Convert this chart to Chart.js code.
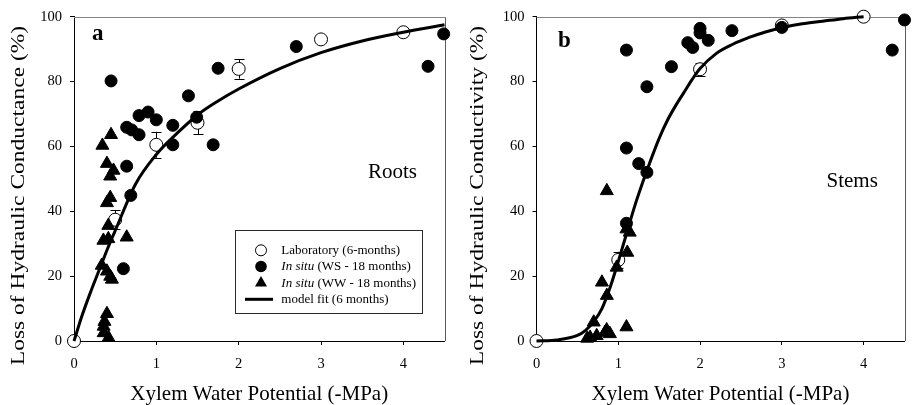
<!DOCTYPE html>
<html><head><meta charset="utf-8">
<script src="https://cdn.jsdelivr.net/npm/chart.js@4.4.1/dist/chart.umd.min.js"></script>
<style>
html,body{margin:0;padding:0;background:#fff;width:913px;height:405px;overflow:hidden}
.w{position:absolute;top:0;height:405px}
#wA{left:0;width:456px}
#wB{left:456px;width:457px}
canvas{display:block}
</style></head><body>
<div class="w" id="wA"><canvas id="cA" width="456" height="405" style="width:456px;height:405px"></canvas></div>
<div class="w" id="wB"><canvas id="cB" width="457" height="405" style="width:457px;height:405px"></canvas></div>
<script>
// ---------- tick labels ----------
const xTicks = [0, 1, 2, 3, 4];
const yTicks = [0, 20, 40, 60, 80, 100];

// ---------- Panel a : Roots ----------
const rootLabX   = [0, 0.5, 1.0, 1.5, 2.0, 3.0, 4.0];
const rootLabY   = [0, 37.4, 60.5, 67.3, 83.9, 93.0, 95.2];
const rootLabErr = [0, 3, 4, 3.5, 3, 0, 0];

const rootWSX = [0.45, 1.75, 1.39, 1.49, 0.79, 0.90, 1.00, 0.64, 0.70, 0.79, 1.20, 1.20, 1.69, 0.64, 0.69, 0.60, 2.70, 4.30, 4.49];
const rootWSY = [80.2, 84.1, 75.6, 69.0, 69.5, 70.6, 68.2, 65.9, 65.1, 63.6, 66.5, 60.5, 60.5, 53.9, 44.9, 22.3, 90.8, 84.7, 94.7];

const rootWWX = [0.45, 0.345, 0.40, 0.48, 0.44, 0.44, 0.40, 0.417, 0.357, 0.417, 0.64, 0.337, 0.40, 0.44, 0.46, 0.40, 0.37, 0.36, 0.36, 0.42];
const rootWWY = [63.6, 60.3, 54.7, 52.6, 50.8, 44.2, 42.6, 35.6, 31.0, 31.5, 32.0, 23.3, 21.5, 19.9, 19.0, 8.4, 6.0, 4.5, 2.5, 1.0];

const rootFitX = [0, 0.1, 0.2, 0.3, 0.4, 0.5, 0.75, 1, 1.25, 1.5, 1.75, 2, 2.5, 3, 3.5, 4, 4.5];
const rootFitY = [0, 8, 15, 21.5, 28, 34, 48.5, 57.5, 64, 69.7, 74, 77.7, 84, 88.9, 92.5, 95.2, 97.5];

// ---------- Panel b : Stems ----------
const stemLabX   = [0, 1.0, 2.0, 3.0, 4.0];
const stemLabY   = [0, 25.0, 83.8, 97.3, 100];
const stemLabErr = [0, 2.5, 2, 0, 0];

const stemWSX = [1.10, 1.35, 1.10, 1.25, 1.35, 1.65, 1.85, 1.91, 2.00, 2.00, 2.10, 2.39, 3.00, 4.50, 4.35, 1.10];
const stemWSY = [89.7, 78.4, 59.5, 54.7, 52.0, 84.6, 92.0, 90.5, 96.4, 95.0, 92.7, 95.7, 96.7, 99.0, 89.7, 36.3];

const stemWWX = [0.86, 1.14, 1.10, 1.11, 0.98, 0.80, 0.86, 0.70, 1.10, 0.655, 0.736, 0.837, 0.898, 0.858, 0.62];
const stemWWY = [46.3, 33.5, 34.5, 27.3, 22.7, 18.1, 14.0, 5.8, 4.3, 1.1, 1.6, 2.6, 2.2, 3.4, 0.8];

const stemFitX = [0, 0.25, 0.5, 0.6, 0.7, 0.8, 0.9, 1, 1.1, 1.2, 1.3, 1.4, 1.5, 1.6, 1.7, 1.8, 1.9, 2, 2.2, 2.4, 2.6, 2.8, 3, 3.25, 3.5, 3.75, 4];
const stemFitY = [0, 0.3, 1.7, 3.3, 6, 10, 16.5, 24.5, 33, 41.5, 49, 56, 62.5, 68, 72.5, 76.5, 80.5, 84, 88.7, 91.5, 93.6, 95.3, 96.6, 97.8, 98.6, 99.4, 100];

// ---------- texts ----------
const xTitle = 'Xylem Water Potential (-MPa)';
const yTitleA = 'Loss of Hydraulic Conductance (%)';
const yTitleB = 'Loss of Hydraulic Conductivity (%)';
const legendLabels = [
  {it: '', rest: 'Laboratory (6-months)'},
  {it: 'In situ', rest: ' (WS - 18 months)'},
  {it: 'In situ', rest: ' (WW - 18 months)'},
  {it: '', rest: 'model fit (6 months)'}
];

const SERIF = '"Liberation Serif", "Times New Roman", serif';
const pts = (xs, ys) => xs.map((x, i) => ({x: x, y: ys[i]}));

const decor = {
  id: 'decor',
  beforeDatasetsDraw(chart, args, o) {
    const ctx = chart.ctx, a = chart.chartArea;
    const xs = chart.scales.x, ys = chart.scales.y;
    ctx.save();
    // top + right frame
    ctx.lineWidth = 1;
    ctx.strokeStyle = '#858585';
    ctx.beginPath();
    ctx.moveTo(a.left, Math.round(a.top) + 0.5);
    ctx.lineTo(Math.round(a.right) + 0.5, Math.round(a.top) + 0.5);
    ctx.stroke();
    ctx.strokeStyle = '#5a5a5a';
    ctx.beginPath();
    ctx.moveTo(Math.round(a.right) + 0.5, Math.round(a.top) + 0.5);
    ctx.lineTo(Math.round(a.right) + 0.5, a.bottom);
    ctx.stroke();
    // error bars
    ctx.strokeStyle = '#000';
    ctx.lineWidth = 1;
    o.errX.forEach((x, i) => {
      const e = o.errE[i];
      if (!e) return;
      const px = Math.round(xs.getPixelForValue(x)) + 0.5;
      const y1 = ys.getPixelForValue(o.errY[i] - e);
      const y2 = ys.getPixelForValue(o.errY[i] + e);
      ctx.beginPath();
      ctx.moveTo(px, y1); ctx.lineTo(px, y2);
      ctx.moveTo(px - 5, Math.round(y1) + 0.5); ctx.lineTo(px + 5, Math.round(y1) + 0.5);
      ctx.moveTo(px - 5, Math.round(y2) + 0.5); ctx.lineTo(px + 5, Math.round(y2) + 0.5);
      ctx.stroke();
    });
    ctx.restore();
  },
  afterDraw(chart, args, o) {
    const ctx = chart.ctx, a = chart.chartArea;
    ctx.save();
    ctx.fillStyle = '#000';
    // y title (rotated, slightly condensed across)
    ctx.save();
    ctx.translate(o.yTitleX, 195.5);
    ctx.rotate(-Math.PI / 2);
    ctx.scale(1, 0.78);
    ctx.font = '23.5px ' + SERIF;
    ctx.textAlign = 'center';
    ctx.textBaseline = 'alphabetic';
    ctx.fillText(o.yTitle, 0, 0);
    ctx.restore();
    // x title
    ctx.font = '21px ' + SERIF;
    ctx.textAlign = 'center';
    ctx.textBaseline = 'alphabetic';
    ctx.fillText(xTitle, (a.left + a.right) / 2, 400);
    // panel letter
    ctx.font = 'bold 23px ' + SERIF;
    ctx.textAlign = 'left';
    ctx.fillText(o.letter, o.letterX, o.letterY);
    // panel name
    ctx.font = '21px ' + SERIF;
    ctx.fillText(o.name, o.nameX, o.nameY);
    // legend
    if (o.legend) {
      const bx = 235.5, by = 230.5, bw = 187, bh = 83;
      ctx.fillStyle = '#fff';
      ctx.fillRect(bx, by, bw, bh);
      ctx.strokeStyle = '#2a2a2a';
      ctx.lineWidth = 1;
      ctx.strokeRect(bx, by, bw, bh);
      const rows = [250.3, 266.5, 283, 299.3];
      const sx = 261;
      ctx.strokeStyle = '#000'; ctx.fillStyle = '#000';
      // open circle
      ctx.beginPath(); ctx.arc(sx, rows[0], 5.5, 0, Math.PI * 2);
      ctx.fillStyle = '#fff'; ctx.fill(); ctx.stroke();
      ctx.fillStyle = '#000';
      // filled circle
      ctx.beginPath(); ctx.arc(sx, rows[1], 5.8, 0, Math.PI * 2); ctx.fill();
      // triangle
      const r = 7;
      ctx.beginPath();
      ctx.moveTo(sx, rows[2] - r);
      ctx.lineTo(sx + r * Math.sin(Math.PI * 2 / 3), rows[2] + r / 2);
      ctx.lineTo(sx - r * Math.sin(Math.PI * 2 / 3), rows[2] + r / 2);
      ctx.closePath(); ctx.fill();
      // line
      ctx.lineWidth = 3;
      ctx.beginPath(); ctx.moveTo(245, rows[3]); ctx.lineTo(273, rows[3]); ctx.stroke();
      // labels
      ctx.textAlign = 'left';
      ctx.textBaseline = 'middle';
      legendLabels.forEach((L, i) => {
        let tx = 281.3;
        if (L.it) {
          ctx.font = 'italic 13px ' + SERIF;
          ctx.fillText(L.it, tx, rows[i] + 0.5);
          tx += ctx.measureText(L.it).width;
        }
        ctx.font = '13px ' + SERIF;
        ctx.fillText(L.rest, tx, rows[i] + 0.5);
      });
    }
    ctx.restore();
  }
};

function makeChart(id, cfg) {
  const datasets = [
    {label: 'model fit (6 months)', data: pts(cfg.fitX, cfg.fitY), showLine: true, borderColor: '#000', borderWidth: 3,
     pointRadius: 0, fill: false, cubicInterpolationMode: 'monotone', clip: false},
    {label: 'In situ (WS - 18 months)', data: pts(cfg.wsX, cfg.wsY), pointStyle: 'circle', pointRadius: 6,
     backgroundColor: '#000', borderColor: '#000', borderWidth: 1, clip: false},
    {label: 'In situ (WW - 18 months)', data: pts(cfg.wwX, cfg.wwY), pointStyle: 'triangle', pointRadius: 7.5,
     backgroundColor: '#000', borderColor: '#000', borderWidth: 1, clip: false},
    {label: 'Laboratory (6-months)', data: pts(cfg.labX, cfg.labY), pointStyle: 'circle', pointRadius: 6.5,
     backgroundColor: '#fff', borderColor: '#000', borderWidth: 1, clip: false}
  ];
  const tickFont = {family: SERIF, size: 14.5};
  return new Chart(document.getElementById(id), {
    type: 'scatter',
    data: {datasets},
    options: {
      responsive: false,
      animation: false,
      events: [],
      layout: {padding: {left: 0, top: 16, right: cfg.padRight, bottom: 0}},
      scales: {
        x: {
          type: 'linear', min: 0, max: 4.5, z: 1,
          afterBuildTicks: s => { s.ticks = xTicks.map(v => ({value: v})); },
          afterFit: s => { s.height = 64; },
          grid: {drawOnChartArea: false, drawTicks: true, tickLength: 4, color: '#000', lineWidth: 1},
          border: {display: true, color: '#000', width: 1},
          ticks: {font: tickFont, color: '#000', padding: 10, maxRotation: 0, autoSkip: false},
          title: {display: false}
        },
        y: {
          type: 'linear', min: 0, max: 100, z: 1,
          afterBuildTicks: s => { s.ticks = yTicks.map(v => ({value: v})); },
          afterFit: s => { s.width = cfg.yWidth; },
          grid: {drawOnChartArea: false, drawTicks: true, tickLength: 4, color: '#000', lineWidth: 1},
          border: {display: true, color: '#000', width: 1},
          ticks: {font: tickFont, color: '#000', padding: 8, autoSkip: false},
          title: {display: false}
        }
      },
      plugins: {
        legend: {display: false},
        tooltip: {enabled: false},
        decor: cfg.decor
      }
    },
    plugins: [decor]
  });
}

makeChart('cA', {
  fitX: rootFitX, fitY: rootFitY, wsX: rootWSX, wsY: rootWSY, wwX: rootWWX, wwY: rootWWY,
  labX: rootLabX, labY: rootLabY, padRight: 11.5, yWidth: 74,
  decor: {errX: rootLabX, errY: rootLabY, errE: rootLabErr, yTitle: yTitleA, yTitleX: 24,
          letter: 'a', letterX: 92, letterY: 40, name: 'Roots', nameX: 368, nameY: 178, legend: true}
});
makeChart('cB', {
  fitX: stemFitX, fitY: stemFitY, wsX: stemWSX, wsY: stemWSY, wwX: stemWWX, wwY: stemWWY,
  labX: stemLabX, labY: stemLabY, padRight: 6, yWidth: 80.5,
  decor: {errX: stemLabX, errY: stemLabY, errE: stemLabErr, yTitle: yTitleB, yTitleX: 483 - 456,
          letter: 'b', letterX: 558 - 456, letterY: 46.5, name: 'Stems', nameX: 826.5 - 456, nameY: 186.5, legend: false}
});
</script>
</body></html>
